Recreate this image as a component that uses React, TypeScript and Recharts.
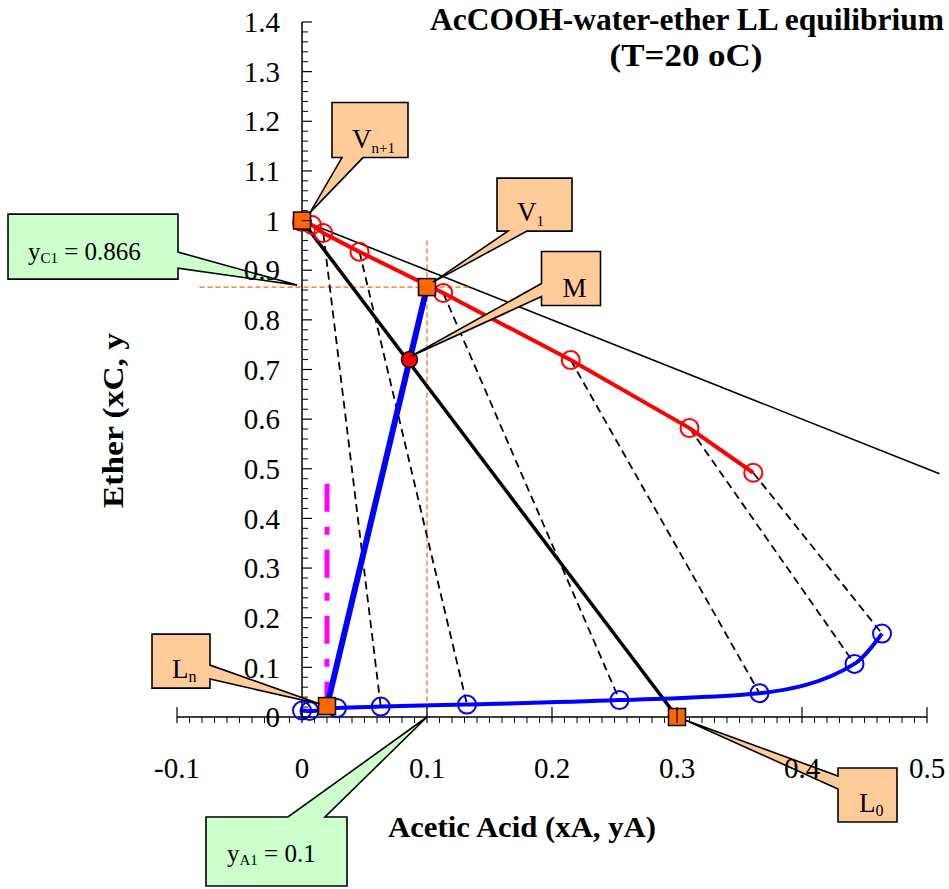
import { ComposedChart, Line, XAxis, YAxis, ReferenceLine, ReferenceDot } from 'recharts'

// raffinate (water-rich) phase: acetic acid vs ether
const raffinateA = [0.0, 0.006, 0.028, 0.063, 0.132, 0.254, 0.366, 0.442, 0.464]
const raffinateC = [0.013, 0.012, 0.018, 0.021, 0.025, 0.034, 0.048, 0.107, 0.168]
// extract (ether-rich) phase
const extractA = [0.0, 0.008, 0.017, 0.046, 0.113, 0.215, 0.31, 0.361]
const extractC = [0.997, 0.991, 0.975, 0.937, 0.854, 0.719, 0.582, 0.492]
// tie lines: [extract index, raffinate index]
const tiePairs = [[2, 3], [3, 4], [4, 5], [5, 6], [6, 7], [7, 8]]

// key points
const pointNames = ['Vn+1', 'V1', 'Ln', 'L0']
const pointA = [0, 0.1, 0.02, 0.3]
const pointC = [1, 0.866, 0.022, 0]
const mixA = [0.086]
const mixC = [0.72]

// helper lines
const hypoA = [0, 0.51]
const hypoC = [1, 0.49]
const yC1Line = { a: [-0.082, 0.135], c: [0.866, 0.866] }
const yA1Line = { a: [0.1, 0.1], c: [0.96, 0] }
const magentaA = [0.02, 0.02]
const magentaC = [0.47, 0.02]

const xMajor = [-0.1, 0, 0.1, 0.2, 0.3, 0.4, 0.5]
const yMajor = [0, 0.1, 0.2, 0.3, 0.4, 0.5, 0.6, 0.7, 0.8, 0.9, 1, 1.1, 1.2, 1.3, 1.4]
const xTicks = Array.from({ length: 61 }, (_, i) => +(-0.1 + i * 0.01).toFixed(2))
const yTicks = Array.from({ length: 71 }, (_, i) => +(i * 0.02).toFixed(2))

const W = 949
const H = 889
const margin = { top: 22, right: 22, left: 120, bottom: 132 }
const Y_AXIS_W = 57
const X_AXIS_H = 40
const PLOT_W = W - margin.left - margin.right - Y_AXIS_W
const X0_OFFSET = (PLOT_W * 0.1) / 0.6

const FONT = '"Liberation Serif", "Times New Roman", serif'
const PEACH = '#FFCC99'
const MINT = '#CCFFCC'
const ORANGE = '#FF6600'

const zip = (xs: number[], ys: number[]) => xs.map((x, i) => ({ x, y: ys[i] }))
const isMajor = (v: number, list: number[]) => list.some((m) => Math.abs(m - v) < 1e-6)

const raffinate = zip(raffinateA, raffinateC)
const extract = zip(extractA, extractC)
const ties = tiePairs.map(([e, r]) => [extract[e], raffinate[r]])
const points = zip(pointA, pointC)
const operating = [points[2], points[1]]
const mixing = [points[0], points[3]]
const hypotenuse = zip(hypoA, hypoC)

function XTick(props: any) {
  const { x, y, payload } = props
  const v = payload.value
  if (!isMajor(v, xMajor)) {
    return <line x1={x} x2={x} y1={y} y2={y + 6} stroke="#000" strokeWidth={1} />
  }
  return (
    <g>
      <line x1={x} x2={x} y1={y - 10} y2={y + 6} stroke="#000" strokeWidth={1.2} />
      <text x={x} y={y + 61} textAnchor="middle" fontFamily={FONT} fontSize={29} fill="#000">
        {String(v)}
      </text>
    </g>
  )
}

function YTick(props: any) {
  const { x, y, payload } = props
  const v = payload.value
  const x0 = x + X0_OFFSET
  if (!isMajor(v, yMajor)) {
    return <line x1={x0} x2={x0 + 6} y1={y} y2={y} stroke="#000" strokeWidth={1} />
  }
  return (
    <g>
      <line x1={x0} x2={x0 + 10} y1={y} y2={y} stroke="#000" strokeWidth={1.2} />
      <text x={x0 - 22} y={y} dy="0.35em" textAnchor="end" fontFamily={FONT} fontSize={29} fill="#000">
        {String(v)}
      </text>
    </g>
  )
}

type Spec = {
  at: number[]
  tip: number[]
  box: number[]
  edge: 'top' | 'right' | 'bottom' | 'left'
  base: number[]
  fill: string
  main: string
  sub: string
  rest: string
  text: number[]
  size: number
  subSize: number
  subDy: number
}

const callouts: Spec[] = [
  { at: [0, 1], tip: [8, -8], box: [30, -118, 76, 55], edge: 'bottom', base: [10, 31], fill: PEACH, main: 'V', sub: 'n+1', rest: '', text: [20, 45], size: 27, subSize: 15, subDy: 5 },
  { at: [0.1, 0.866], tip: [6, -5], box: [70, -109, 75, 53], edge: 'bottom', base: [11, 30], fill: PEACH, main: 'V', sub: '1', rest: '', text: [20, 43], size: 27, subSize: 15, subDy: 5 },
  { at: [0.086, 0.72], tip: [1, -3], box: [132, -108, 59, 54], edge: 'left', base: [32, 45], fill: PEACH, main: 'M', sub: '', rest: '', text: [21, 45], size: 27, subSize: 15, subDy: 5 },
  { at: [0.02, 0.022], tip: [-7, -2], box: [-175, -72, 58, 54], edge: 'right', base: [31, 45], fill: PEACH, main: 'L', sub: 'n', rest: '', text: [20, 44], size: 27, subSize: 16, subDy: 4 },
  { at: [0.3, 0], tip: [8, 3], box: [161, 51, 59, 54], edge: 'left', base: [8, 21], fill: PEACH, main: 'L', sub: '0', rest: '', text: [21, 44], size: 27, subSize: 16, subDy: 4 },
  { at: [0, 0.866], tip: [-5, -2], box: [-294, -73, 170, 65], edge: 'right', base: [38, 54], fill: MINT, main: 'y', sub: 'C1', rest: ' = 0.866', text: [20, 46], size: 25, subSize: 15, subDy: 3 },
  { at: [0.1, 0], tip: [0, 0], box: [-221, 100, 141, 69], edge: 'top', base: [82, 119], fill: MINT, main: 'y', sub: 'A1', rest: ' = 0.1', text: [21, 45], size: 25, subSize: 15, subDy: 3 },
]

function Callout({ cx, cy, spec }: { cx: number; cy: number; spec: Spec }) {
  const T = [cx + spec.tip[0], cy + spec.tip[1]]
  const bx = cx + spec.box[0]
  const by = cy + spec.box[1]
  const bw = spec.box[2]
  const bh = spec.box[3]
  const [b1, b2] = spec.base
  const TL = [bx, by]
  const TR = [bx + bw, by]
  const BR = [bx + bw, by + bh]
  const BL = [bx, by + bh]
  let pts: number[][] = []
  if (spec.edge === 'top') pts = [TL, [bx + b1, by], T, [bx + b2, by], TR, BR, BL]
  if (spec.edge === 'right') pts = [TL, TR, [bx + bw, by + b1], T, [bx + bw, by + b2], BR, BL]
  if (spec.edge === 'bottom') pts = [TL, TR, BR, [bx + b2, by + bh], T, [bx + b1, by + bh], BL]
  if (spec.edge === 'left') pts = [TL, TR, BR, BL, [bx, by + b2], T, [bx, by + b1]]
  const d = 'M' + pts.map((p) => p.join(',')).join('L') + 'Z'
  return (
    <g>
      <path d={d} fill={spec.fill} stroke="#000" strokeWidth={1.6} />
      <text x={bx + spec.text[0]} y={by + spec.text[1]} fontFamily={FONT} fontSize={spec.size} fill="#000">
        {spec.main}
        {spec.sub && (
          <tspan fontSize={spec.subSize} dy={spec.subDy}>
            {spec.sub}
          </tspan>
        )}
        {spec.rest && (
          <tspan fontSize={spec.size} dy={-spec.subDy}>
            {spec.rest}
          </tspan>
        )}
      </text>
    </g>
  )
}

const SquareDot = (p: any) => (
  <rect key={`sq-${p.index}`} x={p.cx - 8.5} y={p.cy - 8.5} width={17} height={17} fill={ORANGE} stroke="#000" strokeWidth={1.5} />
)
const MixDot = (p: any) => <circle key={`m-${p.index}`} cx={p.cx} cy={p.cy} r={8} fill="#FF0000" stroke="#000" strokeWidth={1.5} />

export default function App() {
  return (
    <div style={{ position: 'absolute', left: 0, top: 0, width: W, height: H, background: '#fff' }}>
      <ComposedChart width={W} height={H} margin={margin}>
        <XAxis
          dataKey="x"
          type="number"
          domain={[-0.1, 0.5]}
          ticks={xTicks}
          interval={0}
          tickSize={0}
          tickMargin={0}
          height={X_AXIS_H}
          axisLine={{ stroke: '#000', strokeWidth: 1.5 }}
          tickLine={false}
          tick={(p: any) => <XTick {...p} />}
        />
        <YAxis
          dataKey="y"
          type="number"
          domain={[0, 1.4]}
          ticks={yTicks}
          interval={0}
          tickSize={0}
          tickMargin={0}
          width={Y_AXIS_W}
          axisLine={false}
          tickLine={false}
          tick={(p: any) => <YTick {...p} />}
        />
        <ReferenceLine x={0} stroke="#000" strokeWidth={1.5} />
        {/* x + y = 1 edge, runs slightly past the right end of the x axis */}
        <ReferenceLine segment={hypotenuse} ifOverflow="visible" stroke="#000" strokeWidth={1.6} />

        <Line data={zip(yC1Line.a, yC1Line.c)} dataKey="y" stroke={ORANGE} strokeWidth={1.2} strokeDasharray="5 3" dot={false} activeDot={false} isAnimationActive={false} />
        <Line data={zip(yA1Line.a, yA1Line.c)} dataKey="y" stroke={ORANGE} strokeWidth={1.2} strokeDasharray="5 3" dot={false} activeDot={false} isAnimationActive={false} />
        {ties.map((t, i) => (
          <Line key={`tie-${i}`} data={t} dataKey="y" stroke="#000" strokeWidth={1.8} strokeDasharray="8 5" dot={false} activeDot={false} isAnimationActive={false} />
        ))}
        <Line data={zip(magentaA, magentaC)} dataKey="y" stroke="#FF00FF" strokeWidth={5} strokeDasharray="28 15 8 15" dot={false} activeDot={false} isAnimationActive={false} />
        <Line data={mixing} dataKey="y" stroke="#000" strokeWidth={3.5} dot={false} activeDot={false} isAnimationActive={false} />
        <Line data={extract} dataKey="y" type="linear" stroke="#FF0000" strokeWidth={4} dot={{ r: 9, fill: 'none', stroke: '#FF0000', strokeWidth: 2 }} activeDot={false} isAnimationActive={false} />
        <Line data={raffinate} dataKey="y" type="monotone" stroke="#0000FF" strokeWidth={4} dot={{ r: 9, fill: 'none', stroke: '#0000FF', strokeWidth: 2 }} activeDot={false} isAnimationActive={false} />
        <Line data={zip(mixA, mixC)} dataKey="y" stroke="none" dot={MixDot} activeDot={false} isAnimationActive={false} />
        <Line data={points} name={pointNames.join(',')} dataKey="y" stroke="none" dot={SquareDot} activeDot={false} isAnimationActive={false} />
        <Line data={operating} dataKey="y" stroke="#0000FF" strokeWidth={6} dot={false} activeDot={false} isAnimationActive={false} />

        {callouts.map((s, i) => (
          <ReferenceDot key={`co-${i}`} x={s.at[0]} y={s.at[1]} r={1} shape={(p: any) => <Callout cx={p.cx} cy={p.cy} spec={s} />} />
        ))}
      </ComposedChart>
      <svg width={W} height={H} style={{ position: 'absolute', left: 0, top: 0, pointerEvents: 'none' }}>
        <text x={430} y={30} fontFamily={FONT} fontWeight="bold" fontSize={31} textLength={514} lengthAdjust="spacingAndGlyphs">
          AcCOOH-water-ether LL equilibrium
        </text>
        <text x={686} y={66} textAnchor="middle" fontFamily={FONT} fontWeight="bold" fontSize={31} textLength={153} lengthAdjust="spacingAndGlyphs">
          (T=20 oC)
        </text>
        <text x={388} y={837} fontFamily={FONT} fontWeight="bold" fontSize={29} textLength={268} lengthAdjust="spacingAndGlyphs">
          Acetic Acid (xA, yA)
        </text>
        <text
          x={0}
          y={0}
          transform="translate(123, 508) rotate(-90)"
          fontFamily={FONT}
          fontWeight="bold"
          fontSize={30}
          textLength={175}
          lengthAdjust="spacingAndGlyphs"
        >
          Ether (xC, y
        </text>
      </svg>
    </div>
  )
}
